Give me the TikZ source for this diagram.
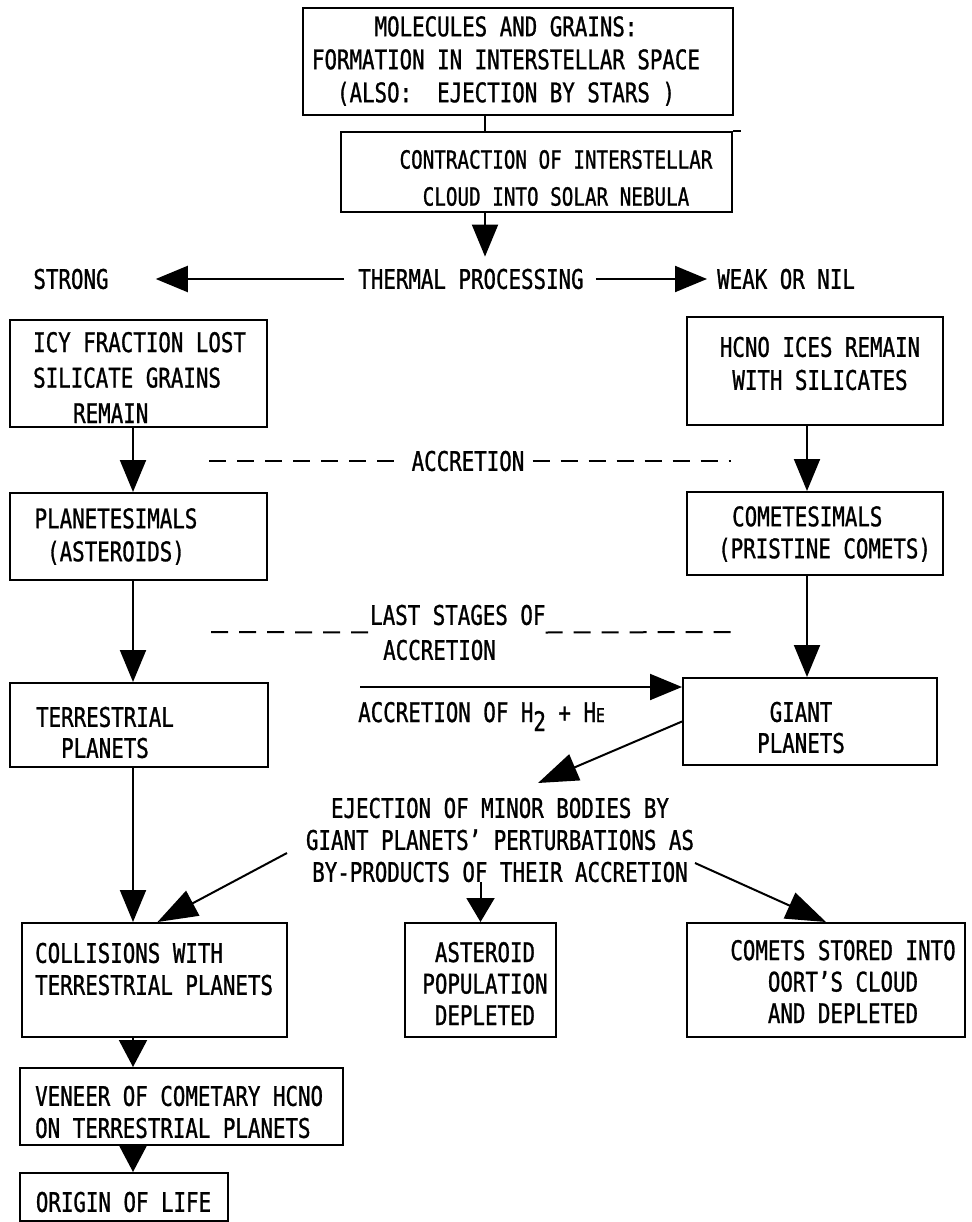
\documentclass[tikz,border=0pt]{standalone}
\usepackage{fontspec}
\setmainfont[FakeStretch=0.77,FakeBold=1]{DejaVu Sans Mono}
\usetikzlibrary{arrows.meta}
\begin{document}
\begin{tikzpicture}[x=1pt,y=-1pt,
  box/.style={draw, line width=2pt, inner sep=0pt},
  txt/.style={inner sep=0pt, font=\fontsize{27}{33}\selectfont},
  arr/.style={line width=2pt, -{Triangle[length=32pt,width=26pt]}},
  darr/.style={line width=2pt, -{Triangle[length=40pt,width=28pt]}},
  sarr/.style={line width=2pt, -{Triangle[length=27pt,width=28pt]}},
  tarr/.style={line width=2pt, -{Triangle[length=24pt,width=28pt]}},
  dashline/.style={line width=2pt, dash pattern=on 17pt off 11pt},
]
\fill[white] (0,0) rectangle (971,1222);
\useasboundingbox (0,0) rectangle (971,1222);

\coordinate (colL) at (133,0);
\coordinate (colM) at (485,0);
\coordinate (colR) at (807,0);

% top boxes
\node[box, minimum width=430pt, minimum height=107pt] (mol) at (518,61.5) {};
\node[txt, align=center] (molT) at (506,61) {MOLECULES AND GRAINS:\\FORMATION IN INTERSTELLAR SPACE\\(ALSO:\ \ EJECTION BY STARS\ )};
\node[box, minimum width=391pt, minimum height=80pt] (con) at (536.5,172) {};
\node[txt, align=center, font=\fontsize{25}{37}\selectfont] (conT) at (556,178) {CONTRACTION OF INTERSTELLAR\\CLOUD INTO SOLAR NEBULA};
\draw[line width=2pt] (con.north east) -- ++(8,0);

% thermal row
\node[txt] (strong) at (71,279) {STRONG};
\node[txt] (thermal) at (471,279) {THERMAL PROCESSING};
\node[txt, anchor=west] (weak) at (717,279) {WEAK OR NIL};

% second row
\node[box, minimum width=257pt, minimum height=107pt] (icy) at (138.5,373.5) {};
\node[txt, anchor=west, align=left, font=\fontsize{27}{35.5}\selectfont] (icyT) at (33,377.5) {ICY FRACTION LOST\\SILICATE GRAINS\\\hspace*{40pt}REMAIN};
\node[box, minimum width=256pt, minimum height=108pt] (hcno) at (815,371) {};
\node[txt, align=center] (hcnoT) at (820,363.5) {HCNO ICES REMAIN\\WITH SILICATES};

\node[txt] (acc) at (468,461) {ACCRETION};

% third row
\node[box, minimum width=257pt, minimum height=87pt] (plan) at (138.5,536.5) {};
\node[txt, align=center] (planT) at (116,536.5) {PLANETESIMALS\\(ASTEROIDS)};
\node[box, minimum width=256pt, minimum height=83pt] (comet) at (815,533.5) {};
\node[txt, anchor=west, align=left, font=\fontsize{27}{32}\selectfont] (cometT) at (718,534) {\hspace*{14pt}COMETESIMALS\\(PRISTINE COMETS)};

\node[txt, anchor=west, align=left, font=\fontsize{27}{35}\selectfont] (last) at (370,632.5) {LAST STAGES OF\\\hspace*{13pt}ACCRETION};

% fourth row
\node[box, minimum width=258pt, minimum height=84pt] (terr) at (139,725) {};
\node[txt, align=center, font=\fontsize{27}{31}\selectfont] (terrT) at (105,732.5) {TERRESTRIAL\\PLANETS};
\node[box, minimum width=254pt, minimum height=87pt] (giant) at (810,721.5) {};
\node[txt, align=center, font=\fontsize{27}{31}\selectfont] (giantT) at (801,727.5) {GIANT\\PLANETS};

\node[txt, anchor=base west] (hlab) at (358,722) {ACCRETION OF H\raisebox{-9pt}{2} + H{\fontsize{19}{19}\selectfont E}};

\node[txt, align=center, font=\fontsize{27}{32}\selectfont] (ej) at (500,840) {EJECTION OF MINOR BODIES BY\\GIANT PLANETS' PERTURBATIONS AS\\BY-PRODUCTS OF THEIR ACCRETION};

% fifth row
\node[box, minimum width=265pt, minimum height=114pt] (coll) at (154.5,980) {};
\node[txt, anchor=west, align=left, font=\fontsize{27}{32}\selectfont] (collT) at (35,969) {COLLISIONS WITH\\TERRESTRIAL PLANETS};
\node[box, minimum width=151pt, minimum height=114pt] (ast) at (480.5,980) {};
\node[txt, align=center, font=\fontsize{27}{31.5}\selectfont] (astT) at (485,983.5) {ASTEROID\\POPULATION\\DEPLETED};
\node[box, minimum width=278pt, minimum height=114pt] (comets) at (826,980) {};
\node[txt, align=center, font=\fontsize{27}{31.5}\selectfont] (cometsT) at (843,981.5) {COMETS STORED INTO\\OORT'S CLOUD\\AND DEPLETED};

% bottom
\node[box, minimum width=323pt, minimum height=77pt] (ven) at (181.5,1106.5) {};
\node[txt, anchor=west, align=left, font=\fontsize{27}{32}\selectfont] (venT) at (35,1112) {VENEER OF COMETARY HCNO\\ON TERRESTRIAL PLANETS};
\node[box, minimum width=208pt, minimum height=48pt] (orig) at (124,1197) {};
\node[txt] (origT) at (123.5,1202) {ORIGIN OF LIFE};

% connectors
\draw[line width=2pt] (mol.south -| colM) -- (con.north -| colM);
\draw[arr, shorten >=12pt] (con.south -| colM) -- (thermal.north -| colM);
\draw[arr, shorten <=14pt, shorten >=47pt] (thermal.west) -- (strong.east);
\draw[arr, shorten <=12pt, shorten >=10pt] (thermal.east) -- (weak.west);

\draw[arr] (icy.south -| colL) -- (plan.north -| colL);
\draw[arr] (hcno.south -| colR) -- (comet.north -| colR);
\draw[arr] (plan.south -| colL) -- (terr.north -| colL);
\draw[arr] (comet.south -| colR) -- (giant.north -| colR);
\draw[arr] (terr.south -| colL) -- (coll.north -| colL);
\draw[sarr] (coll.south -| colL) -- (ven.north -| colL);
\draw[sarr] (ven.south -| colL) -- (orig.north -| colL);

\coordinate (aL) at (209,461);
\coordinate (aR) at (731,461);
\draw[dashline, shorten >=8pt] (aL) -- (acc.west);
\draw[dashline, shorten <=8pt] (acc.east) -- (aR);
\coordinate (lL) at (211,632);
\coordinate (lR) at (737,632);
\draw[dashline] (lL) -- (last.west);
\draw[dashline] (last.east) -- (lR);

\coordinate (hL) at (360,687);
\draw[arr] (hL) -- (hL -| giant.west);
\coordinate (ejTip) at (538,783);
\draw[darr] (giant.west) -- (ejTip);

\coordinate (ejL) at (287,853);
\draw[darr] (ejL) -- ([xshift=3pt]coll.north);
\draw[tarr] (ej.south -| ast.north) -- (ast.north);
\coordinate (ejR) at (695,863);
\draw[darr] (ejR) -- (comets.north);
\end{tikzpicture}
\end{document}
